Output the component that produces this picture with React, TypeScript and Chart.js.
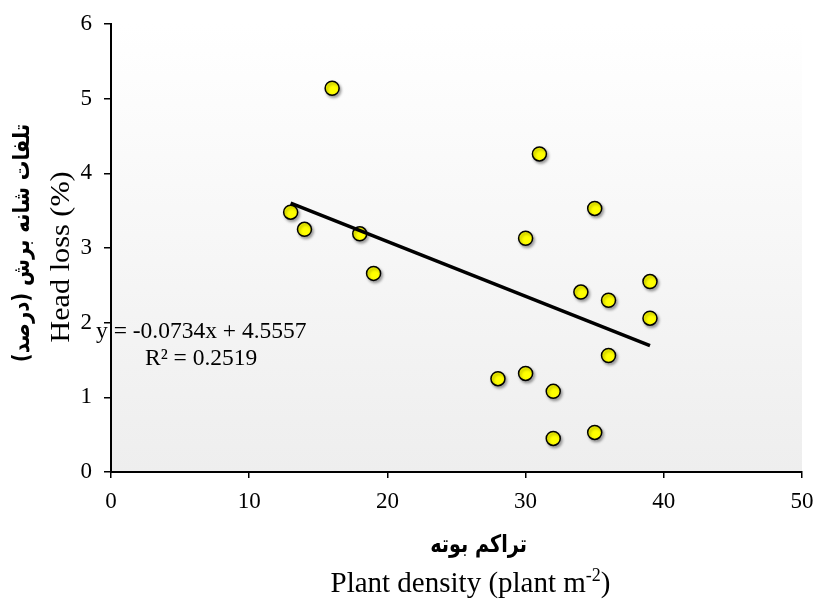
import { useEffect, useRef } from 'react';
import { Chart, registerables } from 'chart.js';

Chart.register(...registerables);

// Plant density (plant m-2)
const densityValues = [16, 13, 14, 18, 19, 31, 35, 30, 34, 36, 39, 39, 36, 28, 30, 32, 32, 35];
// Head loss (%)
const headLossValues = [5.14, 3.48, 3.25, 3.19, 2.66, 4.26, 3.53, 3.13, 2.41, 2.30, 2.55, 2.06, 1.56, 1.25, 1.32, 1.08, 0.45, 0.53];
// Linear trend line end points
const trendX = [13, 39];
const trendY = [3.6015, 1.6931];

const xTickValues = [0, 10, 20, 30, 40, 50];
const yTickValues = [0, 1, 2, 3, 4, 5, 6];

const equationText = 'y = -0.0734x + 4.5557';
const r2Text = 'R² = 0.2519';
const xTitleFa = 'تراکم بوته';
const xTitleEn = 'Plant density (plant m';
const xTitleSup = '-2';
const yTitleFa = 'تلفات شانه برش (درصد)';
const yTitleEn = 'Head loss (%)';

const SERIF = '"Liberation Serif", "Times New Roman", serif';
const FA = '"DejaVu Sans", sans-serif';

const bgPlugin = {
  id: 'bgGradient',
  beforeDraw(chart: any) {
    const { ctx, chartArea: a } = chart;
    const g = ctx.createLinearGradient(0, a.top, 0, a.bottom);
    g.addColorStop(0, '#ffffff');
    g.addColorStop(1, '#eeeeee');
    ctx.save();
    ctx.fillStyle = g;
    ctx.fillRect(a.left, a.top, a.right - a.left, a.bottom - a.top);
    ctx.restore();
  },
};

const shadowPlugin = {
  id: 'pointShadow',
  beforeDatasetDraw(chart: any, args: any) {
    if (args.index === 1) {
      const ctx = chart.ctx;
      ctx.save();
      ctx.shadowColor = 'rgba(0,0,0,0.35)';
      ctx.shadowBlur = 3;
      ctx.shadowOffsetX = 1.5;
      ctx.shadowOffsetY = 2;
    }
  },
  afterDatasetDraw(chart: any, args: any) {
    if (args.index === 1) chart.ctx.restore();
  },
};

const textPlugin = {
  id: 'texts',
  afterDraw(chart: any) {
    const { ctx, chartArea: a } = chart;
    const cx = (a.left + a.right) / 2 + 14;
    ctx.save();
    ctx.fillStyle = '#000';
    // equation
    ctx.font = `23.5px ${SERIF}`;
    ctx.textAlign = 'left';
    ctx.textBaseline = 'alphabetic';
    ctx.fillText(equationText, a.left - 15, a.top + 314);
    ctx.fillText(r2Text, a.left + 34, a.top + 341);

    // x titles
    ctx.save();
    ctx.translate(cx + 8, 546);
    ctx.scale(0.8, 1);
    ctx.textAlign = 'center';
    ctx.textBaseline = 'middle';
    ctx.font = `bold 24px ${FA}`;
    ctx.direction = 'rtl';
    ctx.fillText(xTitleFa, 0, 0);
    ctx.restore();
    ctx.direction = 'ltr';

    ctx.font = `29px ${SERIF}`;
    const w1 = ctx.measureText(xTitleEn).width;
    ctx.font = `18px ${SERIF}`;
    const w2 = ctx.measureText(xTitleSup).width;
    ctx.font = `29px ${SERIF}`;
    const w3 = ctx.measureText(')').width;
    const total = w1 + w2 + w3;
    const x0 = cx - total / 2;
    ctx.textAlign = 'left';
    ctx.textBaseline = 'alphabetic';
    const base = 592;
    ctx.fillText(xTitleEn, x0, base);
    ctx.font = `18px ${SERIF}`;
    ctx.fillText(xTitleSup, x0 + w1, base - 11);
    ctx.font = `29px ${SERIF}`;
    ctx.fillText(')', x0 + w1 + w2, base);

    // y titles
    const cy = (a.top + a.bottom) / 2;
    ctx.save();
    ctx.translate(23, cy - 5);
    ctx.rotate(-Math.PI / 2);
    ctx.scale(0.85, 1);
    ctx.textAlign = 'center';
    ctx.textBaseline = 'middle';
    ctx.font = `bold 23px ${FA}`;
    ctx.direction = 'rtl';
    ctx.fillText(yTitleFa, 0, 0);
    ctx.restore();

    ctx.save();
    ctx.translate(62, cy + 9);
    ctx.rotate(-Math.PI / 2);
    ctx.scale(1.12, 1);
    ctx.textAlign = 'center';
    ctx.textBaseline = 'middle';
    ctx.font = `27px ${SERIF}`;
    ctx.fillText(yTitleEn, 0, 0);
    ctx.restore();

    ctx.restore();
  },
};

export default function App() {
  const ref = useRef<HTMLCanvasElement | null>(null);

  useEffect(() => {
    if (!ref.current) return;
    const chart = new Chart(ref.current, {
      type: 'scatter',
      data: {
        datasets: [
          {
            data: trendX.map((x, i) => ({ x, y: trendY[i] })),
            showLine: true,
            borderColor: '#000',
            borderWidth: 3.5,
            pointRadius: 0,
            pointHoverRadius: 0,
          },
          {
            data: densityValues.map((x, i) => ({ x, y: headLossValues[i] })),
            backgroundColor: '#ffff00',
            borderColor: '#000',
            borderWidth: 1.5,
            pointRadius: 7,
            pointHoverRadius: 7,
          },
        ],
      },
      options: {
        responsive: false,
        animation: false,
        devicePixelRatio: 1,
        layout: { padding: { top: 24, right: 14, left: 0, bottom: 0 } },
        plugins: { legend: { display: false }, tooltip: { enabled: false } },
        scales: {
          x: {
            type: 'linear',
            min: 0,
            max: 50,
            afterBuildTicks(axis: any) {
              axis.ticks = xTickValues.map((v) => ({ value: v }));
            },
            afterFit(axis: any) {
              axis.height = 127;
              axis.paddingLeft = 0;
              axis.paddingRight = 0;
            },
            grid: { drawOnChartArea: false, drawTicks: true, tickLength: 6, color: '#000', lineWidth: 1.5 },
            border: { color: '#000', width: 2 },
            ticks: { color: '#000', padding: 10, font: { family: SERIF, size: 23 }, maxRotation: 0 },
          },
          y: {
            type: 'linear',
            min: 0,
            max: 6,
            afterBuildTicks(axis: any) {
              axis.ticks = yTickValues.map((v) => ({ value: v }));
            },
            afterFit(axis: any) {
              axis.width = 111;
              axis.paddingTop = 0;
              axis.paddingBottom = 0;
            },
            grid: { drawOnChartArea: false, drawTicks: true, tickLength: 7, color: '#000', lineWidth: 1.5 },
            border: { color: '#000', width: 2 },
            ticks: { color: '#000', padding: 12, font: { family: SERIF, size: 23 } },
          },
        },
      },
      plugins: [bgPlugin, shadowPlugin, textPlugin],
    } as any);
    return () => chart.destroy();
  }, []);

  return (
    <div style={{ position: 'absolute', left: 0, top: 0, width: 816, height: 599, background: '#fff' }}>
      <canvas ref={ref} width={816} height={599} style={{ width: 816, height: 599, display: 'block' }} />
    </div>
  );
}
